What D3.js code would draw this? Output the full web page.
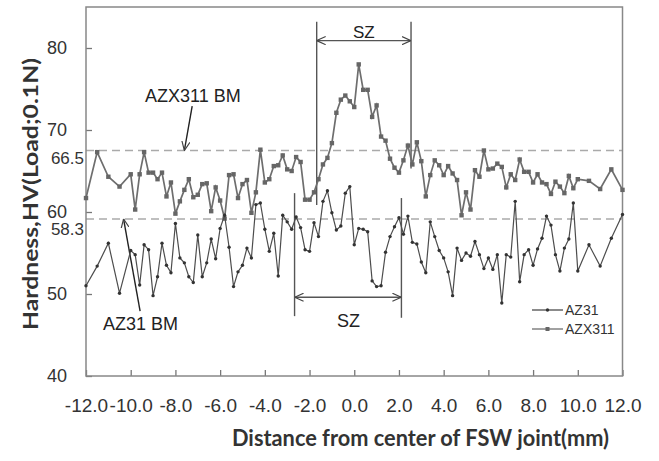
<!DOCTYPE html>
<html>
<head>
<meta charset="utf-8">
<script src="https://cdn.jsdelivr.net/npm/d3@7"></script>
<style>
  html, body { margin: 0; padding: 0; background: #fff; }
  svg { display: block; }
</style>
</head>
<body>
<svg id="chart" width="659" height="461"></svg>
<script>
// ---------------- data ----------------
const distance = [-12.0,-11.5,-11.0,-10.5,-10.0,-9.8,-9.6,-9.4,-9.2,-9.0,-8.8,-8.6,-8.4,-8.2,-8.0,-7.8,-7.6,-7.4,-7.2,-7.0,-6.8,-6.6,-6.4,-6.2,-6.0,-5.8,-5.6,-5.4,-5.2,-5.0,-4.8,-4.6,-4.4,-4.2,-4.0,-3.8,-3.6,-3.4,-3.2,-3.0,-2.8,-2.6,-2.4,-2.2,-2.0,-1.8,-1.6,-1.4,-1.2,-1.0,-0.8,-0.6,-0.4,-0.2,0.0,0.2,0.4,0.6,0.8,1.0,1.2,1.4,1.6,1.8,2.0,2.2,2.4,2.6,2.8,3.0,3.2,3.4,3.6,3.8,4.0,4.2,4.4,4.6,4.8,5.0,5.2,5.4,5.6,5.8,6.0,6.2,6.4,6.6,6.8,7.0,7.2,7.4,7.6,7.8,8.0,8.2,8.4,8.6,8.8,9.0,9.2,9.4,9.6,9.8,10.0,10.5,11.0,11.5,12.0];

const azx311 = [
  61.7,67.3,64.3,63.1,64.6,
  60.3,64.6,67.3,64.8,64.8,
  64.0,64.8,61.9,63.6,59.8,
  61.3,62.7,64.0,61.8,62.1,
  63.4,63.5,60.1,63.0,61.4,
  59.2,64.5,64.6,61.7,63.4,
  63.9,59.9,62.4,67.6,63.6,
  64.0,65.6,65.7,66.9,65.2,
  65.0,66.7,66.1,61.5,61.5,
  62.4,64.0,65.8,66.6,68.4,
  72.1,73.7,74.2,73.5,72.8,
  78.0,74.9,74.9,71.6,73.0,
  69.2,68.7,66.5,65.4,64.8,
  66.3,68.1,65.8,68.5,66.2,
  61.9,64.5,66.3,65.7,64.5,
  65.6,64.7,63.9,59.6,62.4,
  60.3,65.1,64.3,67.5,65.2,
  65.3,65.9,65.5,63.0,64.6,
  63.9,66.4,64.9,64.9,63.6,
  64.6,63.6,63.4,62.2,63.7,
  63.1,62.3,64.4,62.9,64.0,
  63.8,62.8,65.2,62.7
];

const az31 = [
  51.0,53.4,56.2,50.1,55.3,
  54.8,51.1,56.0,55.4,49.8,
  52.1,56.2,53.5,52.6,58.6,
  54.4,53.8,52.1,51.4,57.2,
  52.1,53.8,56.7,54.3,58.0,
  59.6,55.7,50.9,52.7,53.5,
  55.6,54.4,60.9,61.1,57.9,
  55.2,57.4,52.2,59.6,58.8,
  57.9,59.4,58.1,55.4,55.2,
  58.7,57.0,61.3,62.6,59.9,
  57.8,58.3,62.3,63.1,56.0,
  58.0,57.9,57.6,51.6,50.9,
  51.0,55.1,57.0,58.2,59.3,
  57.3,59.5,56.3,56.1,53.9,
  52.6,58.8,57.0,55.3,54.4,
  52.7,49.8,55.6,54.1,55.0,
  54.6,56.4,54.8,53.1,54.4,
  53.0,54.8,48.9,54.8,54.5,
  61.3,51.5,54.8,55.4,53.5,
  55.5,56.8,59.5,58.4,54.8,
  52.8,55.6,56.7,61.1,52.8,
  56.0,53.4,56.8,59.7
];

const seriesNames = ["AZ31", "AZX311"];
const xTicks = [-12, -10, -8, -6, -4, -2, 0, 2, 4, 6, 8, 10, 12];
const yTicks = [40, 50, 60, 70, 80];
const refLabels = ["66.5", "58.3"];
const refLabelValues = [66.5, 58.3];
const refLineValues = [67.5, 59.15];
const xTitle = "Distance from center of FSW joint(mm)";
const yTitle = "Hardness,HV(Load;0.1N)";

// ---------------- chart ----------------
const svg = d3.select("#chart");
const x = d3.scaleLinear().domain([-12, 12]).range([86, 622.5]);
const y = d3.scaleLinear().domain([40, 85]).range([376, 7]);

const tickFont = "'Liberation Sans', Arial, sans-serif";

// defs: arrow markers
const defs = svg.append("defs");
defs.append("marker")
  .attr("id", "vhead")
  .attr("viewBox", "0 0 10 10")
  .attr("refX", 10).attr("refY", 5)
  .attr("markerWidth", 9).attr("markerHeight", 9)
  .attr("markerUnits", "userSpaceOnUse")
  .attr("orient", "auto-start-reverse")
  .append("path")
  .attr("d", "M0,0.5 L10,5 L0,9.5")
  .attr("fill", "none")
  .attr("stroke", "#444")
  .attr("stroke-width", 1.3);

// reference dashed lines
svg.append("g").selectAll("line")
  .data(refLineValues)
  .join("line")
  .attr("x1", x(-12)).attr("x2", x(12))
  .attr("y1", d => y(d)).attr("y2", d => y(d))
  .attr("stroke", "#aaa")
  .attr("stroke-width", 1.6)
  .attr("stroke-dasharray", "8,5");

// axes
const xAxis = d3.axisBottom(x).tickValues(xTicks).tickFormat(d => d.toFixed(1))
  .tickSize(-6).tickPadding(23);
const gx = svg.append("g").attr("transform", `translate(0,${y(40)})`).call(xAxis);
gx.select(".domain").remove();
gx.selectAll(".tick line").attr("stroke", "#777").attr("stroke-width", 1.3);
gx.selectAll(".tick text").attr("font-family", tickFont).attr("font-size", 19).attr("fill", "#333");

const yAxis = d3.axisLeft(y).tickValues(yTicks).tickFormat(d => String(d))
  .tickSize(-6).tickPadding(19);
const gy = svg.append("g").attr("transform", `translate(${x(-12)},0)`).call(yAxis);
gy.select(".domain").remove();
gy.selectAll(".tick line").attr("stroke", "#777").attr("stroke-width", 1.3);
gy.selectAll(".tick text").attr("font-family", tickFont).attr("font-size", 18).attr("fill", "#333");

// reference value labels
svg.append("g").selectAll("text")
  .data(refLabels)
  .join("text")
  .attr("x", x(-12) - 2)
  .attr("y", (d, i) => y(refLabelValues[i]) + (i === 1 ? 3.5 : -1))
  .attr("dy", "0.35em")
  .attr("text-anchor", "end")
  .attr("font-family", tickFont)
  .attr("font-size", 17)
  .attr("fill", "#333")
  .text(d => d);

// frame
svg.append("rect")
  .attr("x", x(-12)).attr("y", y(85))
  .attr("width", x(12) - x(-12)).attr("height", y(40) - y(85))
  .attr("fill", "none").attr("stroke", "#888").attr("stroke-width", 1.5);

// annotations (data units)
const ann = svg.append("g").attr("stroke", "#555").attr("stroke-width", 1.4).attr("fill", "none");
// top SZ
ann.append("line").attr("x1", x(-1.68)).attr("x2", x(-1.68)).attr("y1", y(83.2)).attr("y2", y(60.85));
ann.append("line").attr("x1", x(2.54)).attr("x2", x(2.54)).attr("y1", y(83.2)).attr("y2", y(65.3));
ann.append("line").attr("x1", x(-1.68)).attr("x2", x(2.54)).attr("y1", y(80.9)).attr("y2", y(80.9))
  .attr("marker-start", "url(#vhead)").attr("marker-end", "url(#vhead)");
// bottom SZ
ann.append("line").attr("x1", x(-2.67)).attr("x2", x(-2.67)).attr("y1", y(62.3)).attr("y2", y(47.3));
ann.append("line").attr("x1", x(2.11)).attr("x2", x(2.11)).attr("y1", y(61.7)).attr("y2", y(47.1));
ann.append("line").attr("x1", x(-2.67)).attr("x2", x(2.11)).attr("y1", y(49.6)).attr("y2", y(49.6))
  .attr("marker-start", "url(#vhead)").attr("marker-end", "url(#vhead)");
// BM arrows
ann.append("line").attr("x1", x(-7.25)).attr("y1", y(72.9)).attr("x2", x(-7.6)).attr("y2", y(67.5))
  .attr("stroke", "#222").attr("marker-end", "url(#vhead)");
ann.append("line").attr("x1", x(-9.58)).attr("y1", y(47.9)).attr("x2", x(-10.32)).attr("y2", y(59.15))
  .attr("stroke", "#222").attr("marker-end", "url(#vhead)");

const annText = svg.append("g").attr("font-family", tickFont).attr("fill", "#222");
annText.append("text").attr("x", x(0.43)).attr("y", y(80.9) - 3).attr("text-anchor", "middle")
  .attr("font-size", 17).text("SZ");
annText.append("text").attr("x", x(-0.26)).attr("y", y(46.0)).attr("text-anchor", "middle")
  .attr("font-size", 18).text("SZ");
annText.append("text").attr("x", x(-7.22)).attr("y", y(73.4)).attr("text-anchor", "middle")
  .attr("font-size", 18).text("AZX311 BM");
annText.append("text").attr("x", x(-9.56)).attr("y", y(45.6)).attr("text-anchor", "middle")
  .attr("font-size", 18).text("AZ31 BM");

// series
const pts = (vals) => distance.map((d, i) => [d, vals[i]]);
const line = d3.line().x(d => x(d[0])).y(d => y(d[1]));

const gUp = svg.append("g");
gUp.append("path").datum(pts(azx311)).attr("d", line)
  .attr("fill", "none").attr("stroke", "#6e6e6e").attr("stroke-width", 1.7);
gUp.selectAll("rect").data(pts(azx311)).join("rect")
  .attr("x", d => x(d[0]) - 2.2).attr("y", d => y(d[1]) - 2.2)
  .attr("width", 4.4).attr("height", 4.4).attr("fill", "#666");

const gLo = svg.append("g");
gLo.append("path").datum(pts(az31)).attr("d", line)
  .attr("fill", "none").attr("stroke", "#4d4d4d").attr("stroke-width", 1.2);
gLo.selectAll("circle").data(pts(az31)).join("circle")
  .attr("cx", d => x(d[0])).attr("cy", d => y(d[1])).attr("r", 1.7).attr("fill", "#333");

// legend
const leg = svg.append("g").attr("font-family", tickFont).attr("font-size", 14).attr("fill", "#333");
seriesNames.forEach((name, i) => {
  const ly = 310 + i * 19;
  const g = leg.append("g");
  g.append("line").attr("x1", 532).attr("x2", 563).attr("y1", ly).attr("y2", ly)
    .attr("stroke", i === 0 ? "#4d4d4d" : "#6e6e6e").attr("stroke-width", 1.3);
  if (i === 0) {
    g.append("circle").attr("cx", 547.5).attr("cy", ly).attr("r", 1.7).attr("fill", "#333");
  } else {
    g.append("rect").attr("x", 545.5).attr("y", ly - 2).attr("width", 4).attr("height", 4).attr("fill", "#666");
  }
  g.append("text").attr("x", 565).attr("y", ly).attr("dy", "0.36em").text(name);
});

// titles
svg.append("text")
  .attr("x", 420.5).attr("y", 446)
  .attr("text-anchor", "middle")
  .attr("font-family", "Lato, 'Open Sans', sans-serif")
  .attr("font-weight", "bold")
  .attr("font-size", 23)
  .attr("fill", "#333")
  .attr("textLength", 377).attr("lengthAdjust", "spacingAndGlyphs")
  .text(xTitle);

svg.append("text")
  .attr("transform", "translate(38,194) rotate(-90)")
  .attr("text-anchor", "middle")
  .attr("font-family", "Lato, 'Open Sans', sans-serif")
  .attr("font-weight", "bold")
  .attr("font-size", 21)
  .attr("fill", "#333")
  .attr("textLength", 272).attr("lengthAdjust", "spacingAndGlyphs")
  .text(yTitle);
</script>
</body>
</html>
